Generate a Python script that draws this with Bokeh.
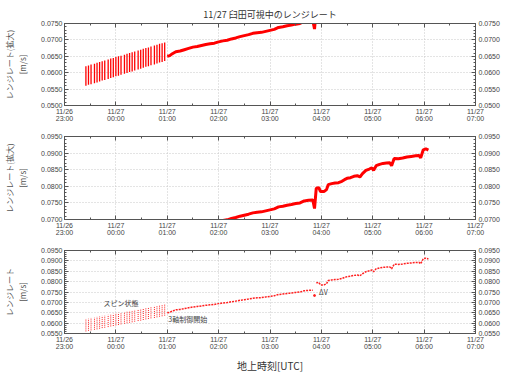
from bokeh.plotting import figure
from bokeh.models import (Range1d, LinearAxis, FixedTicker, SingleIntervalTicker,
                          PrintfTickFormatter, Label)
from bokeh.layouts import column
from bokeh.embed import file_html
from bokeh.resources import INLINE

# ---------------- data ----------------
x_ticks = [23, 24, 25, 26, 27, 28, 29, 30, 31]
x_minor = [23.5, 24.5, 25.5, 26.5, 27.5, 28.5, 29.5, 30.5]
x_tick_labels = ["11/26\n23:00", "11/27\n00:00", "11/27\n01:00", "11/27\n02:00",
                 "11/27\n03:00", "11/27\n04:00", "11/27\n05:00", "11/27\n06:00",
                 "11/27\n07:00"]

# spin state (each spin cycle: time, high, low of range rate)
spin_time = ["23:25", "23:28", "23:31", "23:35", "23:38", "23:41", "23:44", "23:47",
             "23:51", "23:54", "23:57", "00:00", "00:03", "00:06", "00:10", "00:13",
             "00:16", "00:19", "00:22", "00:26", "00:29", "00:32", "00:35", "00:38",
             "00:41", "00:45", "00:48", "00:51", "00:54", "00:57"]
spin_high = [0.0620, 0.0622, 0.0625, 0.0627, 0.0630, 0.0633, 0.0635, 0.0637, 0.0640, 0.0643,
             0.0645, 0.0648, 0.0650, 0.0652, 0.0655, 0.0658, 0.0660, 0.0662, 0.0665, 0.0668,
             0.0670, 0.0673, 0.0675, 0.0677, 0.0680, 0.0683, 0.0685, 0.0688, 0.0690, 0.0692]
spin_low = [0.0560, 0.0563, 0.0565, 0.0568, 0.0570, 0.0573, 0.0576, 0.0578, 0.0581, 0.0584,
            0.0586, 0.0589, 0.0591, 0.0594, 0.0597, 0.0599, 0.0602, 0.0604, 0.0607, 0.0610,
            0.0612, 0.0615, 0.0618, 0.0620, 0.0623, 0.0625, 0.0628, 0.0631, 0.0633, 0.0636]

# 3-axis control, before the delta-V
pre_time = ["01:00", "01:03", "01:06", "01:10", "01:15", "01:20", "01:25", "01:30", "01:35",
            "01:40", "01:45", "01:50", "01:55", "02:00", "02:05", "02:10", "02:15", "02:20",
            "02:25", "02:30", "02:35", "02:40", "02:45", "02:50", "02:55", "03:00", "03:05",
            "03:10", "03:15", "03:20", "03:25", "03:30", "03:35", "03:40", "03:45", "03:50"]
pre_rate = [0.0650, 0.0652, 0.0658, 0.0664, 0.0666, 0.0670, 0.0674, 0.0678, 0.0680,
            0.0683, 0.0686, 0.0688, 0.0690, 0.0694, 0.0697, 0.0699, 0.0703, 0.0706,
            0.0710, 0.0713, 0.0716, 0.0720, 0.0722, 0.0723, 0.0726, 0.0729, 0.0732,
            0.0738, 0.0740, 0.0743, 0.0745, 0.0748, 0.0750, 0.0756, 0.0758, 0.0759]
dv_time = ["03:52"]
dv_rate = [0.0733]
post_time = ["03:54", "03:57", "03:59", "04:03", "04:06", "04:08", "04:12", "04:16", "04:20",
             "04:24", "04:27", "04:30", "04:34", "04:38", "04:42", "04:45", "04:48", "04:52",
             "04:56", "04:59", "05:01", "05:04", "05:08", "05:12", "05:16", "05:20", "05:22",
             "05:25", "05:30", "05:35", "05:40", "05:45", "05:50", "05:54", "05:56", "05:59",
             "06:02", "06:05"]
post_rate = [0.0794, 0.0796, 0.0784, 0.0784, 0.0790, 0.0805, 0.0808, 0.0810, 0.0811,
             0.0815, 0.0820, 0.0824, 0.0826, 0.0830, 0.0832, 0.0828, 0.0838, 0.0848,
             0.0852, 0.0856, 0.0848, 0.0862, 0.0866, 0.0869, 0.0870, 0.0871, 0.0862,
             0.0884, 0.0883, 0.0885, 0.0888, 0.0890, 0.0892, 0.0893, 0.0886, 0.0910,
             0.0913, 0.0909]

title_text = "11/27 臼田可視中のレンジレート"
ylabel_zoom = "レンジレート(拡大)\n[m/s]"
ylabel_full = "レンジレート\n[m/s]"
xlabel = "地上時刻[UTC]"
note_spin = "スピン状態"
note_3axis = "3軸制御開始"
note_dv = "ΔV"


def to_hours(s):
    h, m = map(int, s.split(":"))
    if h < 12:
        h += 24
    return h + m / 60.0


spin_x = [to_hours(t) for t in spin_time]
pre_x = [to_hours(t) for t in pre_time]
dv_x = [to_hours(t) for t in dv_time]
post_x = [to_hours(t) for t in post_time]
all_x = pre_x + dv_x + post_x
all_y = pre_rate + dv_rate + post_rate

# ---------------- styling ----------------
AX = "#555555"
TXT = "#444444"
JP = "Noto Sans CJK JP"
NUM = "Liberation Sans"


def style_axis(ax):
    ax.axis_line_color = AX
    ax.major_tick_line_color = AX
    ax.minor_tick_line_color = AX
    ax.major_tick_in = 4
    ax.major_tick_out = 0
    ax.minor_tick_in = 2
    ax.minor_tick_out = 0
    ax.major_label_text_font = NUM
    ax.major_label_text_color = TXT
    ax.major_label_text_font_size = "7px"
    ax.major_label_standoff = 2
    ax.major_label_text_line_height = 1.0


def make_fig(ymin, ymax, fh, top, bottom, ylabel, title=None):
    p = figure(frame_width=411, frame_height=fh,
               x_range=Range1d(23, 31), y_range=Range1d(ymin, ymax),
               output_backend="svg", toolbar_location=None, title=title,
               min_border_left=53, min_border_right=30,
               min_border_top=top, min_border_bottom=bottom,
               background_fill_color="white", border_fill_color="white")
    p.outline_line_color = AX
    xt = FixedTicker(ticks=x_ticks, minor_ticks=x_minor)
    yt = SingleIntervalTicker(interval=0.005, num_minor_ticks=5)
    fmt = PrintfTickFormatter(format="%.4f")

    xa = p.below[0]
    xa.ticker = xt
    xa.major_label_overrides = {float(t): l for t, l in zip(x_ticks, x_tick_labels)}
    style_axis(xa)
    ya = p.left[0]
    ya.ticker = yt
    ya.formatter = fmt
    style_axis(ya)
    ya.axis_label = ylabel
    ya.axis_label_text_font = JP
    ya.axis_label_text_font_size = "8px"
    ya.axis_label_text_font_style = "normal"
    ya.axis_label_text_color = "#555555"
    ya.axis_label_standoff = 10

    ra = LinearAxis(ticker=yt, formatter=fmt)
    style_axis(ra)
    ra.major_label_standoff = 3
    p.add_layout(ra, "right")
    ta = LinearAxis(ticker=xt)
    style_axis(ta)
    ta.major_label_overrides = {float(t): "" for t in x_ticks}
    ta.major_label_standoff = 0
    p.add_layout(ta, "above")

    p.xgrid.ticker = xt
    for g in (p.xgrid[0], p.ygrid[0]):
        g.grid_line_color = "#c8c8c8"
        g.grid_line_dash = "1 2"
        g.grid_line_width = 1
    return p, xa


# Panel 1
p1, _ = make_fig(0.050, 0.075, 82, 23, 23, ylabel_zoom, title=title_text)
p1.title.align = "center"
p1.title.text_font = JP
p1.title.text_font_size = "9px"
p1.title.text_font_style = "normal"
p1.title.text_color = "#333333"
p1.title.standoff = 5
p1.title.offset = 0
p1.segment(x0=spin_x, y0=spin_low, x1=spin_x, y1=spin_high, line_color="red", line_width=1.3)
p1.line(all_x, all_y, line_color="red", line_width=3)

# Panel 2
p2, _ = make_fig(0.070, 0.095, 83, 8, 21, ylabel_zoom)
p2.segment(x0=spin_x, y0=spin_low, x1=spin_x, y1=spin_high, line_color="red", line_width=1.3)
p2.line(all_x, all_y, line_color="red", line_width=3)

# Panel 3
p3, xa3 = make_fig(0.055, 0.095, 83, 10, 39, ylabel_full)
p3.segment(x0=spin_x, y0=spin_low, x1=spin_x, y1=spin_high, line_color="#ff2020",
           line_width=1, line_dash="1 1")
p3.line(pre_x, pre_rate, line_color="#ff2020", line_width=1.5, line_dash="2 1")
p3.line(post_x, post_rate, line_color="#ff2020", line_width=1.5, line_dash="2 1")
p3.scatter(dv_x, dv_rate, color="#ff2020", size=2)
xa3.axis_label = xlabel
xa3.axis_label_text_font = JP
xa3.axis_label_text_font_size = "10px"
xa3.axis_label_text_font_style = "normal"
xa3.axis_label_text_color = "#333333"
xa3.axis_label_standoff = 5
for txt, lx, ly in ((note_spin, 23.76, 0.0699), (note_3axis, 25.02, 0.0622),
                    (note_dv, 27.955, 0.0748)):
    p3.add_layout(Label(x=lx, y=ly, text=txt, text_align="left", text_baseline="middle",
                        text_font=JP, text_font_size="7px", text_color="#444444"))

layout = column(p1, p2, p3, spacing=0)
open("out.html", "w").write(file_html(layout, INLINE))
